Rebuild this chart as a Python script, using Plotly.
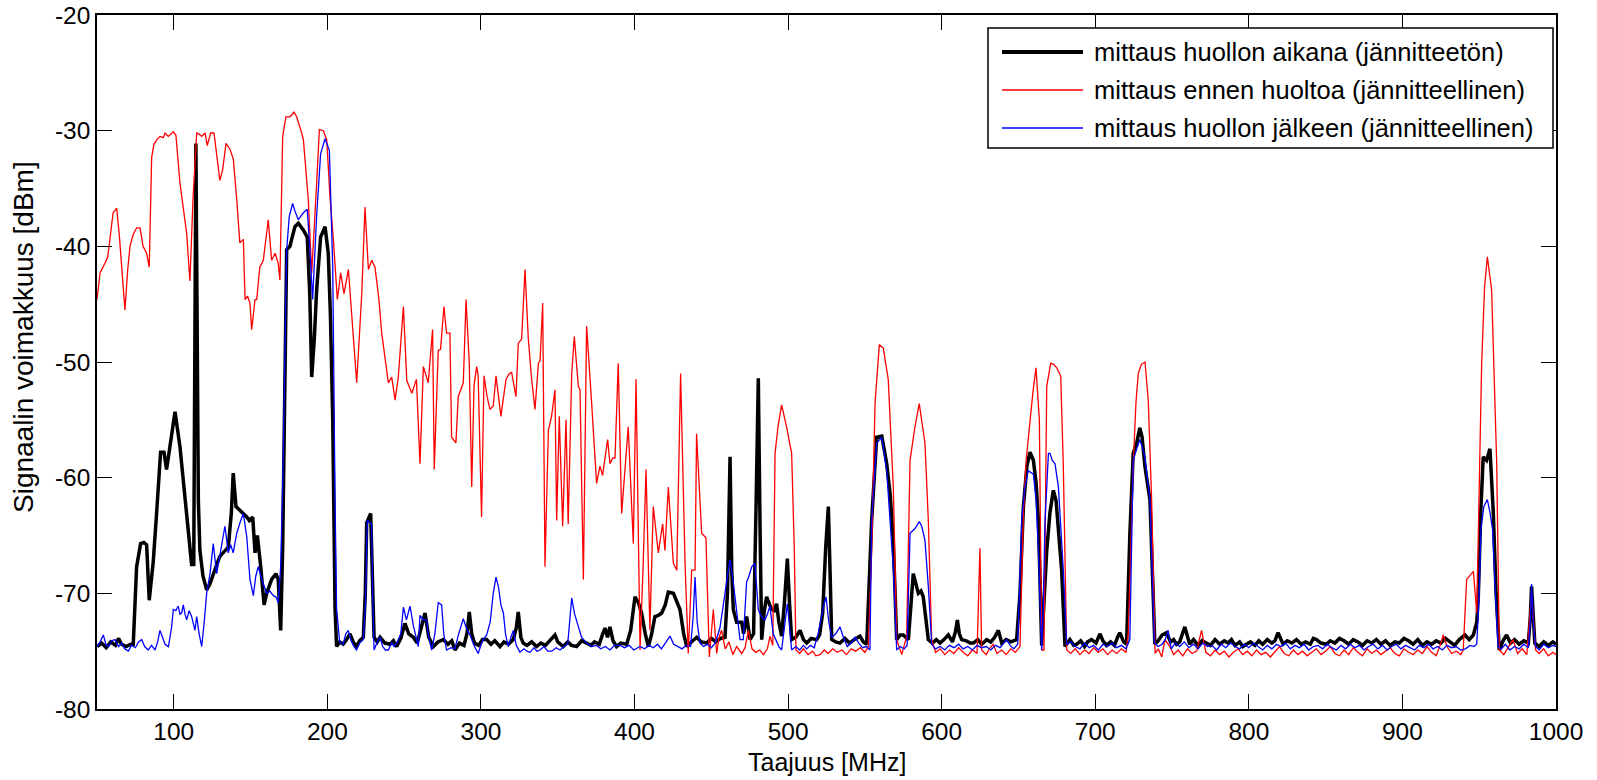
import plotly.graph_objects as go

# ---------------- data ----------------
freq_black = [50, 53, 56, 59, 62, 64, 66, 69, 72, 73.6, 75.8, 78.4, 80.5, 82.3, 84, 86.6, 88.8, 91.4, 93.6, 95.3,
              97.5, 100.8, 104, 106, 108.4, 111.6, 113, 114.4, 116, 117, 119, 121.4, 123.5, 125.7, 128, 130, 132.2,
              135.5, 137.5, 138.7, 140.5, 143.1, 145.7, 147.5, 149.2, 151.4, 152.9, 154.4, 156.6, 158.8, 160.5, 162,
              163.7, 166.5, 168, 169.6, 170.9, 173.5, 175.6, 177.5, 178.9, 181.1, 182.8, 184.4, 186.9, 188.5, 189.8,
              191.5, 193, 195.6, 198.5, 200.6, 202, 203.5, 205, 206, 208, 210.3, 212.5, 214.7, 216.8, 219, 221,
              223.4, 224.7, 225.6, 228.2, 229.3, 230.4, 232.5, 234.3, 237.5, 240.8, 243, 245.1, 247.8, 250.5, 253,
              256, 258.5, 260.8, 263.6, 266, 269, 272, 275.5, 278.5, 281, 283.1, 286, 289, 291, 292.4, 294, 295.8,
              298.5, 301, 303.7, 306.5, 309, 312.4, 315, 318, 321, 323, 324.3, 326, 327.5, 330, 333, 336.2, 339,
              342, 345, 347, 348.2, 350, 353.6, 356.5, 359, 362.3, 365.5, 368.8, 371.5, 374, 377, 379.3, 380.8,
              382.4, 384, 386, 388.3, 391, 394.9, 397.5, 400.3, 402.5, 404.6, 407, 409, 411, 413.3, 415.5, 417.7,
              420, 422, 425.3, 427.5, 429.6, 432, 434, 437, 440.5, 443.5, 447, 450, 453, 456, 458.9, 460.5, 462.2,
              463.3, 464.3, 466.5, 469.8, 471, 473, 475.2, 477.5, 479.2, 480.6, 481.8, 482.8, 484.5, 486, 488,
              489.3, 491, 492.5, 494, 495.8, 497.5, 499.5, 501, 502.3, 505, 507.8, 510, 512.1, 515, 518.6, 520.5,
              522.5, 524.5, 526.2, 527.3, 528.4, 531, 533.8, 537, 540, 543, 546.8, 549, 551.2, 554.4, 557.7, 561,
              564.2, 566.5, 568.5, 570.7, 573, 575, 578.3, 581.5, 583, 584.8, 586.5, 588, 591.3, 594, 596.5, 598.9,
              601.5, 604.3, 607, 609, 610.2, 611.5, 613, 616, 618.5, 620.6, 623.5, 626, 629.3, 632, 634.5, 636.9,
              639.1, 642, 645, 648.8, 651, 653.2, 655.5, 657.5, 659.7, 661.5, 663, 664.2, 665.1, 666.5, 668.4,
              670.5, 672.7, 674.5, 676, 678.1, 680.3, 683.5, 686, 687.9, 690.5, 693, 695, 697.6, 700.5, 703, 705,
              707.3, 710, 712.5, 714.5, 716, 718.5, 720.4, 722.5, 724.7, 727, 729, 730.5, 732.3, 735.6, 737.7,
              738.8, 741, 743.5, 746.4, 749, 751, 752.9, 755, 758.3, 761.5, 764, 767, 769.5, 772.4, 775, 778, 781,
              784, 786.5, 788.7, 791, 794, 796, 798.4, 801, 804, 806.5, 809, 812, 815, 817, 819, 822.3, 825, 828,
              831, 834, 837, 840, 842, 844, 847, 850.5, 853, 856, 859, 862, 865, 868, 871, 874, 877, 880, 883, 886,
              889, 892, 895, 898, 901, 904, 907, 910, 913, 916, 919, 922, 925, 928, 931, 934, 937, 940.7, 943.5,
              946.2, 948.4, 949.4, 951, 952.6, 954.8, 957, 959.2, 961, 963.1, 965.5, 967.8, 970.4, 973, 976, 979,
              982, 983.3, 984.1, 985.2, 986.2, 989, 992, 995, 998, 1000]
level_black = [-74.6, -74.3, -74.7, -74.2, -74.5, -73.9, -74.4, -74.6, -74.4, -74.4, -67.7, -65.7, -65.6, -65.8,
               -70.6, -67.3, -63.1, -57.8, -57.8, -59.3, -57.3, -54.3, -57.3, -60, -62.8, -67.5, -67.5, -31.1, -62,
               -66.3, -68.5, -69.7, -69.2, -68.3, -67.5, -66.8, -66.5, -66, -63, -59.6, -62.5, -62.8, -63.1, -63.4,
               -63.7, -63.4, -66.5, -65, -67.7, -71, -70, -69.5, -68.8, -68.3, -68.8, -73.2, -66, -40.3, -40, -39,
               -38.3, -38, -38.3, -38.6, -39.2, -44, -51.3, -48, -43.8, -39.2, -38.3, -40.6, -46, -55, -71.3, -74.6,
               -74.2, -74.4, -74, -73.5, -74.2, -74.6, -74.1, -73.8, -70, -63.9, -63.1, -68, -73.8, -74.2, -73.8,
               -74.3, -74.4, -74.1, -74.6, -73.9, -72.6, -73.5, -73.8, -74.3, -73.2, -71.7, -73.8, -74.6, -74.2, -74,
               -74.4, -74.1, -74.9, -74.3, -74.5, -73.4, -71.6, -73.5, -74.3, -74.5, -74.0, -74, -74.4, -74.1, -74.6,
               -74.2, -74.4, -74.0, -73.0, -71.6, -73.8, -74.3, -74.5, -74.2, -74.6, -74.3, -74.5, -74.1, -73.8,
               -73.6, -74.2, -74.6, -74.2, -74.5, -74.6, -74.1, -74.3, -74.5, -74.2, -74.4, -73.5, -73, -73.8,
               -72.9, -74.1, -74.6, -74.3, -74.4, -73.2, -70.3, -70.8, -71.7, -73.5, -74.6, -73.6, -72, -71.9,
               -71.7, -71, -69.9, -70, -70.8, -71.4, -73.5, -74.6, -74.2, -73.8, -74.2, -74.3, -73.9, -74.2, -73.9,
               -73.8, -70, -58.2, -68, -71.4, -72.5, -72.5, -73.5, -72, -74, -73.5, -62, -51.4, -65, -74, -71.5,
               -70.3, -71, -71.4, -71.5, -70.9, -72.5, -73.7, -71, -67, -71, -74, -73.8, -73.2, -74.0, -74.3, -73.9,
               -74, -73.6, -71.7, -66, -62.5, -68, -74, -74.2, -74.3, -73.9, -74.3, -74.0, -73.7, -74.2, -74.4,
               -63.7, -56.5, -56.4, -58.8, -61.5, -65.5, -74, -73.6, -73.6, -74, -68.3, -69, -70, -69.8, -70.3, -74,
               -74.3, -74.0, -74.3, -74.0, -73.6, -74.2, -73.3, -72.3, -73.5, -74, -74.1, -74.3, -74.3, -74.0,
               -74.4, -74, -74.2, -73.8, -73.2, -74.3, -74.0, -74.2, -74, -70, -62.5, -59, -57.8, -58.5, -60.5,
               -63.7, -70, -74.5, -71, -66.3, -63, -61.1, -62, -64.8, -68, -74.6, -74, -74.5, -74.4, -74.1, -74.6,
               -74.2, -74, -74.3, -73.5, -74.1, -74.5, -74.2, -74.5, -73.8, -73.4, -74.2, -74.4, -65, -57.9, -57,
               -55.7, -56.5, -59, -61.9, -71.6, -74.4, -74.1, -73.6, -73.4, -74.2, -74.0, -74.4, -74.2, -72.9,
               -74.4, -74.0, -74.5, -74.1, -74.3, -74.5, -74.0, -74.4, -74.1, -74.3, -74.0, -74.5, -74.2, -74.6,
               -74.4, -74.2, -74.5, -74.1, -74.4, -74.0, -74.3, -74.1, -73.4, -74.4, -74.1, -74.3, -74.0, -74.4,
               -74.2, -74.4, -73.9, -74.0, -74.3, -74.4, -74.1, -74.3, -73.9, -74.1, -74.4, -74.0, -74.2, -74.5,
               -74.1, -74.3, -74.0, -74.4, -74.1, -74.5, -74.2, -74.3, -73.9, -74.1, -74.4, -74.0, -74.5, -74.2,
               -74.4, -74.1, -74.3, -73.9, -74.2, -74.5, -74.0, -73.6, -74.0, -73.6, -72.5, -70.3, -63, -58.2,
               -58.5, -57.5, -63.1, -70, -74.9, -74.1, -73.6, -74.3, -74.0, -74.4, -74.1, -74.3, -72, -69.4, -72,
               -74.3, -74.6, -74.2, -74.5, -74.2, -74.4]

freq_red = [50, 52, 55, 57, 60.5, 62.8, 64.5, 66, 68.2, 70, 71.5, 73.5, 75.8, 78, 80, 82.3, 84, 85.6, 87, 88.9, 91,
            93.2, 94.3, 96.4, 99.7, 101.4, 104, 106, 108.4, 110.5, 112.5, 114.9, 116.5, 118.2, 120.4, 121.8, 124,
            126.2, 128, 130, 131.8, 134, 136.6, 138.8, 141, 143, 145.3, 146.4, 148, 149.6, 150.7, 152.9, 154, 156,
            158.3, 160, 161.5, 163.7, 166, 168, 169.1, 170.9, 173, 175.7, 178.3, 180, 181.8, 183.3, 184.4, 186,
            187.6, 189.8, 191.5, 193, 194.8, 197.4, 199.6, 201.7, 203.9, 206.5, 208.7, 210.8, 213.7, 215.5, 216.9,
            219.1, 222.4, 224.5, 226.7, 228.9, 231, 233.5, 235.4, 239.7, 241.9, 244.1, 246.2, 249.5, 251.7, 255,
            258, 260.3, 262.5, 265.7, 268.5, 269.6, 272.2, 273.7, 275.9, 277.6, 279.8, 280.9, 283.7, 285.2, 288.5,
            290.3, 292.4, 294, 295.5, 297.2, 298.2, 300.4, 302, 304, 305.9, 308, 309.8, 311.5, 313, 316.3, 318.5,
            320, 322.8, 324.3, 326.5, 328.7, 330.8, 333, 335.2, 337.4, 338.5, 340.2, 341.7, 343.9, 346, 348.2,
            349.3, 351, 353.2, 355.4, 356.8, 359.1, 360.8, 363.4, 364.5, 366.7, 368.8, 372.1, 375.3, 377.5, 379.2,
            382.5, 384, 385.8, 387.3, 389.4, 391.6, 395.9, 399.2, 401, 403.6, 405.5, 407.5, 410, 412.2, 415.5,
            418.3, 419.8, 422, 425.3, 427.5, 430, 432.9, 435, 437.2, 439.4, 440.4, 443.7, 446.5, 448.7, 451.3,
            453.5, 455, 456.7, 459, 461.5, 464, 466.5, 469.8, 472, 474.1, 476.5, 479, 481.5, 484, 486.5, 488.2,
            490, 491.5, 493.5, 495.8, 499, 502.3, 504, 505.1, 507.5, 510, 513, 516, 518, 520.8, 523.5, 526, 529,
            532, 535, 538, 541, 544, 547, 550, 552.2, 554.4, 556.6, 559.4, 562, 565.2, 568.5, 570.7, 574, 577.2,
            579.4, 582.6, 585.4, 587, 589.1, 591.3, 593.5, 596, 599, 602, 605, 608, 611, 614, 617, 620, 623, 624.9,
            626, 629, 631, 633.6, 636, 639, 642, 645, 648, 651, 653.2, 655, 657.5, 659.5, 661.4, 663.6, 665.1,
            666.6, 668.4, 671, 673, 674.9, 677.5, 679.2, 681.4, 684, 687, 690, 693, 696, 699, 702, 705, 708, 711,
            714, 717, 720, 721.5, 724.7, 726.5, 728, 730, 732.4, 734.5, 736.7, 739, 741, 743.3, 745.4, 748.6, 751,
            754, 757, 760, 763, 766, 769.2, 772, 775, 778, 781, 784, 787, 790, 793, 796, 799, 802, 805, 808, 811,
            814, 817, 820, 823, 826, 829, 832, 835, 838, 841, 844, 847, 850, 853, 856, 859, 862, 865, 868, 871,
            874, 877, 880, 883, 886, 889, 892, 895, 898, 901, 904, 907, 910, 913, 916, 919, 922, 924.5, 926.6, 929,
            932, 935, 938, 939.6, 941.8, 946.2, 948.4, 951.6, 953.5, 955.3, 958.1, 961.4, 963.1, 966, 969, 972,
            975, 978, 981, 984.1, 986.7, 989, 992, 995, 998, 1000]
level_red = [-44.6, -42.3, -41.5, -40.9, -37.1, -36.7, -39, -42, -45.5, -42, -40, -39, -38.4, -38.4, -40, -40.6,
             -41.8, -32.3, -31.2, -30.8, -30.5, -30.6, -30.2, -30.5, -30.1, -30.4, -34.5, -36.5, -38.9, -43, -36,
             -30.2, -30.3, -30.5, -30.2, -31.3, -30.2, -30.2, -32, -34.3, -33.4, -31.1, -31.6, -32.5, -36, -39.7,
             -39.4, -44.6, -44.3, -44.9, -47.2, -44.6, -44.6, -41.8, -41.2, -39.5, -37.7, -41.2, -40.6, -41.5,
             -42.9, -30.5, -28.8, -28.8, -28.4, -28.8, -29.5, -30.2, -30.8, -33.5, -36, -42.3, -38.5, -34.6, -29.9,
             -30, -30.8, -35.7, -39.4, -44.6, -42.3, -44.1, -42, -45, -47.5, -51.8, -44.1, -36.6, -42, -41.2,
             -41.8, -44.5, -47.5, -51.8, -51.3, -53.3, -51.3, -45.2, -51.6, -52.7, -51.5, -58.8, -50.4, -51.8,
             -47.2, -59.3, -49, -48.9, -45.2, -47.5, -47.5, -56.5, -57, -53, -51.8, -44.6, -50.1, -60.8, -52,
             -50.4, -51.2, -63.4, -51.2, -53, -54.1, -53.8, -51.2, -53, -54.7, -51.5, -51, -50.9, -53, -48.4, -48,
             -42, -47.9, -51.5, -54.1, -50.1, -49.9, -44.9, -67.7, -55.9, -54.7, -52.4, -63.7, -54.7, -64.2, -55,
             -64, -51, -47.8, -52.1, -52.4, -68.8, -46.9, -53.6, -60.5, -59, -59.8, -56.7, -58.8, -58.3, -58.3,
             -50.1, -63.1, -55.6, -65.7, -51.5, -74.9, -68, -59.3, -73.2, -62.5, -66.5, -64, -66.3, -60.8, -67.4,
             -68, -51, -67.4, -75.2, -68, -68, -56.2, -64.8, -65.2, -75.5, -71.4, -75.2, -73.8, -73.2, -74.8,
             -74.2, -75.3, -74.6, -75.2, -74.7, -73.2, -74.8, -75.1, -74.9, -75.3, -74.8, -73.7, -74.5, -57.9,
             -55.5, -53.7, -55.6, -57.9, -66, -74.9, -75.2, -74.8, -75.3, -75.0, -75.4, -75.3, -74.9, -75.2,
             -74.8, -75.1, -74.9, -75.3, -74.8, -75.0, -74.7, -75.1, -74.6, -66.5, -53.6, -48.5, -48.8, -51.5,
             -60.8, -74, -75.3, -73.7, -58.5, -55.6, -53.6, -55, -57, -63.7, -74, -75.1, -74.8, -75.3, -74.9,
             -75.2, -74.7, -75.1, -75.4, -74.9, -75.2, -66.1, -74.9, -75.3, -74.8, -74.4, -75.2, -74.9, -75.3,
             -74.8, -75.1, -74.6, -63.1, -58.5, -55, -52.5, -50.5, -55, -74.9, -74.9, -52.1, -50.1, -50.2, -50.5,
             -51.2, -59, -74.9, -75.2, -74.8, -75.3, -74.9, -75.2, -74.7, -75.1, -74.8, -75.3, -74.9, -75.2, -74.8,
             -75.1, -73.5, -59, -53.5, -51, -50.2, -50, -53.3, -61.9, -75.2, -74.8, -75.5, -74, -74.6, -75.3,
             -74.9, -75.4, -74.8, -75.2, -75.0, -73.2, -75.1, -75.4, -74.9, -75.3, -75.0, -75.5, -75.1, -74.8,
             -75.3, -75.0, -75.4, -74.9, -75.3, -75.1, -75.5, -75.0, -74.6, -75.2, -75.4, -74.9, -75.3, -75.0,
             -75.4, -75.1, -74.8, -75.3, -75.0, -74.6, -75.2, -75.4, -74.9, -75.3, -74.7, -75.1, -75.4, -74.8,
             -75.2, -74.9, -75.3, -75.0, -74.7, -75.2, -75.4, -74.8, -75.1, -75.3, -74.9, -75.2, -74.6, -75.1,
             -75.4, -74.5, -73.6, -74.6, -75.2, -75.0, -75.3, -74.9, -68.8, -68.1, -71.7, -50.1, -43.5, -40.9,
             -43.8, -58.8, -74.9, -75.3, -74.6, -74.0, -75.2, -74.8, -75.3, -70, -74.9, -75.2, -74.8, -75.4,
             -75.1, -75.3]

freq_blue = [50, 52, 54.1, 56, 57.4, 59.5, 61.7, 64, 66, 68, 70.4, 72.5, 75, 77, 79.1, 81, 83.4, 85.5, 87.8, 89.5,
             91, 92.5, 94.3, 96.5, 98.5, 99.7, 101.3, 102.9, 104, 105.1, 106.2, 107.3, 108.4, 110, 111.6, 113.8,
             114.9, 116.5, 118.2, 119.8, 121.4, 123.6, 125.7, 127.9, 129.5, 131.2, 133.3, 135.5, 137, 138.7, 141,
             143.1, 145.3, 147.5, 149.6, 151.8, 153.4, 155, 157.3, 160.5, 162.5, 164.8, 166.5, 168, 169.6, 171,
             173.5, 175.2, 177.4, 179, 181.1, 184.4, 186.9, 188.5, 190.4, 191.7, 193, 195.6, 198.5, 201.3, 203.5,
             205, 206, 208, 210.3, 212, 213.6, 215.5, 217.3, 219, 221, 223.3, 224.8, 226, 228.8, 229.5, 230.4,
             232.5, 234.3, 236, 237.8, 239.7, 241.8, 243.5, 245.5, 247.8, 249.5, 251.5, 253.8, 256, 258, 259.2,
             260.3, 262.5, 264.6, 266, 267.9, 270, 272.2, 274.4, 275.8, 277.6, 280.5, 283, 285.5, 288.5, 290.5,
             292.9, 295.5, 298.2, 301, 303.7, 306, 308, 309.8, 311.5, 313, 314.6, 316, 317.8, 319.5, 321.1, 323,
             325.4, 328, 330, 332, 334.5, 336.5, 338.5, 341, 343.5, 346.1, 349, 351.5, 354, 356.5, 358, 359.1, 361,
             363.4, 365.5, 368.8, 372, 375.3, 378, 381, 384, 387, 390.6, 393.5, 396.5, 399.5, 403.6, 406.5, 409.5,
             412.2, 415, 417.5, 419.8, 421.5, 423.1, 425.5, 428.5, 431, 433.5, 436.5, 438.2, 439.4, 440.8, 442.6,
             445, 447.5, 450, 452.5, 455.6, 457.5, 458.9, 460.5, 462.2, 463.8, 465.4, 467, 468.7, 470.8, 472, 473,
             474.5, 476.3, 478.4, 480.6, 482.5, 484.9, 486.5, 488.2, 490.3, 492.5, 494, 495.8, 497.5, 499.5, 501,
             502.3, 505, 507.5, 510, 512.1, 514.5, 517, 519.5, 521.9, 523.3, 524.7, 526.5, 528.4, 531, 533.8, 536,
             538.5, 541, 543.6, 546, 548.5, 551, 553.3, 554.4, 557.7, 561, 564.2, 568.5, 570.7, 573, 575.5, 577.5,
             579.4, 582.6, 585.4, 587, 589.1, 591.3, 593.5, 596, 599, 602, 605, 608, 611, 614, 617, 620, 623, 626,
             629, 632, 635, 638, 640.5, 642.3, 644.5, 647, 649.5, 652.1, 654, 656.4, 659.7, 661.5, 663, 664.2,
             665.1, 666.2, 667.3, 669.5, 670.5, 672, 673.8, 676, 679.2, 681.4, 684, 687, 690, 693, 696, 699, 702,
             705, 708, 711, 714, 717, 720, 722.5, 724.7, 727, 729, 730.5, 732.3, 735.6, 738.5, 741, 743.5, 745.5,
             747.4, 749.5, 752, 755, 758, 761, 764, 767, 770, 773, 776, 779, 782, 785, 788, 791, 794, 797, 800,
             803, 806, 809, 812, 815, 818, 821, 824, 827, 830, 833, 836, 839, 842, 845, 848, 851, 854, 857, 860,
             863, 866, 869, 872, 875, 878, 881, 884, 887, 890, 893, 896, 899, 902, 905, 908, 911, 914, 917, 920,
             923, 926, 929, 932, 935, 938, 941, 944, 946.5, 948.4, 950, 951.1, 953, 955.3, 957, 958.7, 960.5,
             962.3, 964.5, 967, 970, 973, 976, 979, 982, 983.2, 984.1, 985.2, 986.7, 989, 992, 995, 998, 1000]
level_blue = [-74.6, -74.2, -73.6, -74.5, -74.6, -74.1, -74, -74.6, -74.3, -74.8, -75, -74.5, -74.7, -74.2, -74,
              -74.6, -74.9, -74.5, -74.9, -74.2, -73.2, -73.8, -74.4, -74.6, -73, -71.4, -71.5, -71.1, -71.8,
              -71.7, -71, -71.8, -72.3, -71.5, -72, -73.2, -72, -73.5, -74.6, -72.5, -70, -68.3, -65.7, -68.3, -67,
              -66, -64.2, -66.5, -65.8, -66.5, -64.8, -63.9, -63.1, -65.1, -68.8, -70.2, -68.5, -67.7, -68.8, -70,
              -69.8, -70.2, -70.3, -70.8, -67.7, -60, -40.3, -37.4, -36.3, -37, -37.7, -37.1, -36.8, -40, -44.6,
              -41, -37.4, -32, -30.7, -31.7, -41.8, -62, -71.3, -74.2, -74.4, -73.5, -73.2, -74.1, -74.6, -74.9,
              -74.3, -74.0, -71, -63.7, -64, -70, -74.9, -74.2, -73.8, -74.6, -74.9, -74.9, -74.3, -74.6, -74.2,
              -73.5, -71.2, -72.3, -71.1, -72.8, -74.1, -74.6, -71.9, -72.3, -72.3, -73.8, -74.9, -73.5, -70.8,
              -71, -73.5, -74.9, -74.7, -74.8, -73.5, -72.2, -73, -73.6, -74.5, -75.2, -74.1, -73.6, -72.5, -70,
              -68.6, -69.5, -71, -71.7, -73.5, -74.6, -73.8, -73.2, -74.5, -75.1, -74.8, -75.0, -75.1, -74.7,
              -75.0, -74.9, -74.6, -75.0, -75, -74.7, -74.9, -74.6, -74.4, -72, -70.4, -71.8, -72.9, -73.8, -74.3,
              -74.6, -74.5, -74.8, -74.6, -74.9, -74.5, -74.5, -74.7, -74.5, -74.9, -74.6, -74.8, -74.5, -74.7,
              -74.4, -74.8, -74.3, -74.0, -73.7, -74.4, -74.6, -74.8, -74.5, -74.6, -72, -68.6, -72.5, -74.3,
              -74.6, -74.4, -74.7, -74.3, -73, -71.5, -70, -68.5, -67.1, -68.5, -70.3, -72.5, -74, -74, -71, -69,
              -68.5, -67.7, -67.4, -71.4, -72, -72.3, -71.8, -71.1, -73.5, -74.2, -74.6, -74.9, -73, -70.9, -73,
              -74.9, -74.6, -74.9, -74.5, -74.8, -74.5, -74.7, -73.5, -71.7, -71, -70.3, -72.5, -73.8, -73.5,
              -72.9, -73.8, -74.6, -74.3, -73.8, -74.3, -74.7, -74.6, -74.9, -63.7, -57, -56.5, -59.4, -67.9,
              -74.9, -74.6, -74.8, -74.5, -64.8, -64.4, -63.8, -64.2, -65.4, -69.4, -74.4, -74.8, -74.6, -74.9,
              -74.5, -74.7, -74.4, -74.8, -74.6, -74.9, -74.5, -74.7, -74.6, -74.9, -74.5, -74.7, -74.3, -74,
              -74.5, -74.8, -74.4, -63.7, -61, -59.4, -59.7, -62, -66.5, -71, -74.9, -71, -63.7, -57.9, -57.9,
              -58.5, -58.8, -60.8, -68, -74.4, -74.2, -74.6, -74.8, -74.3, -74.7, -74.5, -74.9, -74.4, -74.6,
              -74.3, -74.7, -74.5, -74.8, -74, -58.5, -57.5, -56.7, -57.3, -58.2, -61.9, -74.3, -74.6, -74.4,
              -74.0, -73.2, -74.8, -74.3, -74.6, -74.2, -74.7, -74.4, -74.8, -74.3, -74.6, -74.5, -74.9, -74.4,
              -74.7, -74.3, -74.6, -74.8, -74.4, -74.7, -74.3, -74.6, -74.9, -74.5, -74.8, -74.4, -74.6, -74.3,
              -74.8, -74.5, -74.7, -74.4, -74.9, -74.6, -74.5, -74.8, -74.4, -74.7, -74.9, -74.5, -74.8, -74.4,
              -74.7, -74.5, -74.9, -74.6, -74.4, -74.8, -74.5, -74.9, -74.6, -74.4, -74.8, -74.5, -74.7, -74.9,
              -74.5, -74.7, -74.4, -74.8, -74.6, -74.9, -74.5, -74.7, -74.6, -74.9, -74.8, -74.5, -74.6, -74.4,
              -70, -64.5, -62.5, -61.9, -63, -64.5, -70, -74.6, -74.8, -74.4, -74.9, -74.6, -74.8, -74.4, -74.7,
              -72.5, -69.2, -72.5, -74.6, -74.9, -74.4, -74.7, -74.5, -74.6]

series_names = ["mittaus huollon aikana (jännitteetön)",
                "mittaus ennen huoltoa (jännitteellinen)",
                "mittaus huollon jälkeen (jännitteellinen)"]
x_ticks = [100, 200, 300, 400, 500, 600, 700, 800, 900, 1000]
y_ticks = [-80, -70, -60, -50, -40, -30, -20]

# ---------------- figure ----------------
FONT = "Liberation Sans, Arial, sans-serif"
W, H = 1597, 780
L, R, T, B = 97, 41, 15, 71
PW, PH = W - L - R, H - T - B


def px(x):
    return (x - L) / PW


def py(y):
    return (H - B - y) / PH


styles = [dict(color="#000000", width=3.5), dict(color="#ff0000", width=1.3), dict(color="#0000ff", width=1.3)]
data = [(freq_black, level_black), (freq_red, level_red), (freq_blue, level_blue)]

fig = go.Figure()
for (xs, ys), st, nm in zip(data, styles, series_names):
    fig.add_trace(go.Scatter(x=xs, y=ys, mode="lines", line=st, name=nm, showlegend=False))

axis_common = dict(showgrid=False, zeroline=False, showline=True, linecolor="black", linewidth=1.5,
                   mirror="ticks", ticks="inside", ticklen=15, tickwidth=1.2, tickcolor="black",
                   tickfont=dict(family=FONT, size=24.5, color="black"))
fig.update_xaxes(range=[50, 1000], tickvals=x_ticks, ticktext=[str(v) for v in x_ticks], **axis_common)
fig.update_yaxes(range=[-80, -20], tickvals=y_ticks, ticktext=[str(v) for v in y_ticks], **axis_common)

# legend drawn by hand to match the long line samples of the original
shapes = [dict(type="rect", xref="paper", yref="paper", x0=px(988), x1=px(1553), y0=py(148), y1=py(28),
               line=dict(color="black", width=1.5), fillcolor="white", layer="above")]
annotations = []
rows = [52, 90, 128]
for st, nm, ry in zip(styles, series_names, rows):
    shapes.append(dict(type="line", xref="paper", yref="paper", x0=px(1002), x1=px(1083), y0=py(ry), y1=py(ry),
                       line=dict(color=st["color"], width=st["width"] + (0.5 if st["width"] > 2 else 0))))
    annotations.append(dict(text=nm, xref="paper", yref="paper", x=px(1092), y=py(ry), xanchor="left",
                            yanchor="middle", showarrow=False, font=dict(family=FONT, size=25.5, color="black")))

annotations.append(dict(text="Taajuus [MHz]", xref="paper", yref="paper", x=0.5, y=py(762), xanchor="center",
                        yanchor="middle", showarrow=False, font=dict(family=FONT, size=25, color="black")))
annotations.append(dict(text="Signaalin voimakkuus [dBm]", xref="paper", yref="paper", x=px(23), y=py(337),
                        xanchor="center", yanchor="middle", textangle=-90, showarrow=False,
                        font=dict(family=FONT, size=28, color="black")))

fig.update_layout(width=W, height=H, margin=dict(l=L, r=R, t=T, b=B, autoexpand=False),
                  paper_bgcolor="white", plot_bgcolor="white", showlegend=False,
                  shapes=shapes, annotations=annotations)

fig.write_html("out.html", include_plotlyjs=True, full_html=True,
               config={"displayModeBar": False})
